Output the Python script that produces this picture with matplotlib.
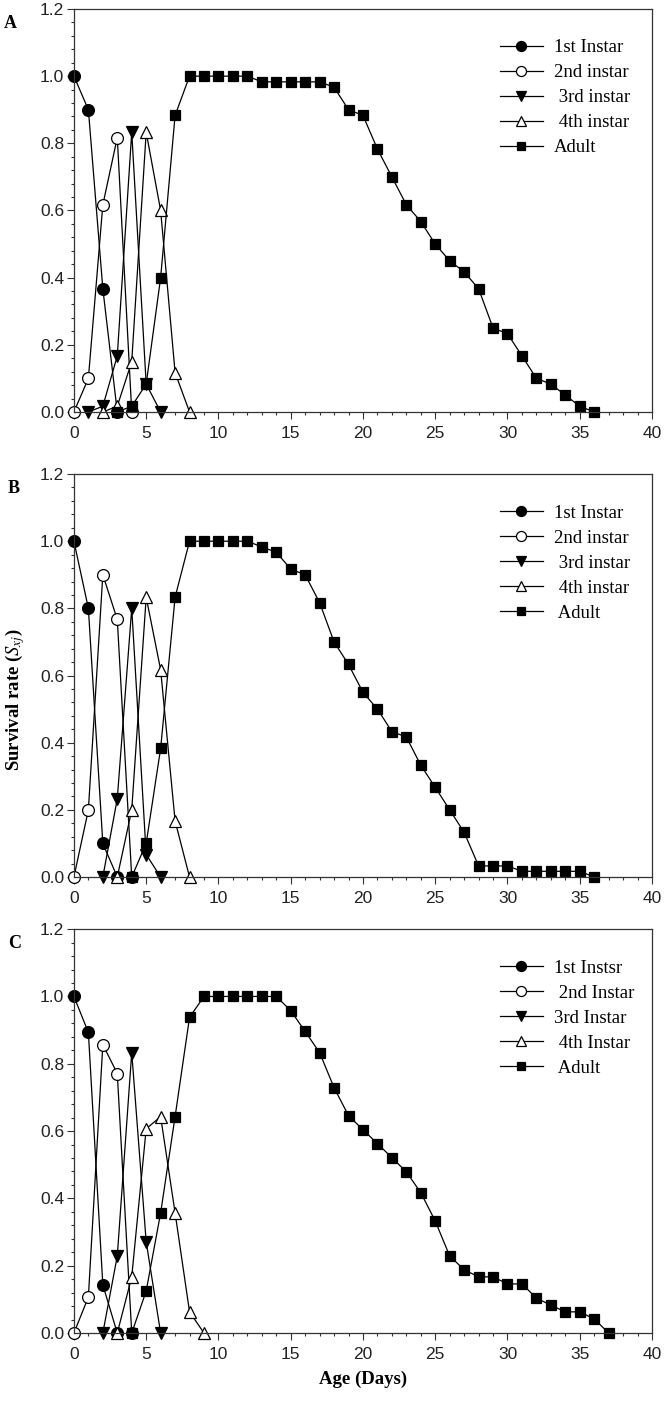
import matplotlib
matplotlib.use("Agg")
import matplotlib.pyplot as plt
from matplotlib.ticker import MultipleLocator

# ---- data ----
# panel A
a_inst1_age = [0, 1, 2, 3]
a_inst1 = [1.0, 0.9, 0.367, 0.0]
a_inst2_age = [0, 1, 2, 3, 4]
a_inst2 = [0.0, 0.1, 0.617, 0.817, 0.0]
a_inst3_age = [1, 2, 3, 4, 5, 6]
a_inst3 = [0.0, 0.017, 0.167, 0.833, 0.083, 0.0]
a_inst4_age = [2, 3, 4, 5, 6, 7, 8]
a_inst4 = [0.0, 0.017, 0.15, 0.833, 0.6, 0.117, 0.0]
a_adult_age = list(range(3, 37))
a_adult = [0.0, 0.017, 0.083, 0.4, 0.883, 1.0, 1.0, 1.0, 1.0, 1.0,
           0.983, 0.983, 0.983, 0.983, 0.983, 0.967, 0.9, 0.883, 0.783, 0.7,
           0.617, 0.567, 0.5, 0.45, 0.417, 0.367, 0.25, 0.233, 0.167, 0.1,
           0.083, 0.05, 0.017, 0.0]

# panel B
b_inst1_age = [0, 1, 2, 3]
b_inst1 = [1.0, 0.8, 0.1, 0.0]
b_inst2_age = [0, 1, 2, 3, 4]
b_inst2 = [0.0, 0.2, 0.9, 0.767, 0.0]
b_inst3_age = [2, 3, 4, 5, 6]
b_inst3 = [0.0, 0.233, 0.8, 0.067, 0.0]
b_inst4_age = [3, 4, 5, 6, 7, 8]
b_inst4 = [0.0, 0.2, 0.833, 0.617, 0.167, 0.0]
b_adult_age = list(range(4, 37))
b_adult = [0.0, 0.1, 0.383, 0.833, 1.0, 1.0, 1.0, 1.0, 1.0,
           0.983, 0.967, 0.917, 0.9, 0.817, 0.7, 0.633, 0.55, 0.5, 0.433,
           0.417, 0.333, 0.267, 0.2, 0.133, 0.033, 0.033, 0.033,
           0.017, 0.017, 0.017, 0.017, 0.017, 0.0]

# panel C
c_inst1_age = [0, 1, 2, 3]
c_inst1 = [1.0, 0.893, 0.143, 0.0]
c_inst2_age = [0, 1, 2, 3, 4]
c_inst2 = [0.0, 0.107, 0.857, 0.771, 0.0]
c_inst3_age = [2, 3, 4, 5, 6]
c_inst3 = [0.0, 0.229, 0.833, 0.271, 0.0]
c_inst4_age = [3, 4, 5, 6, 7, 8, 9]
c_inst4 = [0.0, 0.167, 0.607, 0.643, 0.357, 0.063, 0.0]
c_adult_age = list(range(4, 38))
c_adult = [0.0, 0.125, 0.357, 0.643, 0.938, 1.0, 1.0, 1.0, 1.0, 1.0, 1.0,
           0.958, 0.896, 0.833, 0.729, 0.646, 0.604, 0.563, 0.521, 0.479,
           0.417, 0.333, 0.229, 0.188, 0.167, 0.167, 0.146, 0.146, 0.104,
           0.083, 0.063, 0.063, 0.042, 0.0]

a_labels = ["1st Instar", "2nd instar", " 3rd instar", " 4th instar", "Adult"]
b_labels = ["1st Instar", "2nd instar", " 3rd instar", " 4th instar", " Adult"]
c_labels = ["1st Instsr", " 2nd Instar", "3rd Instar", " 4th Instar", " Adult"]

# marker, fill, size for each stage
styles = [("o", "black", 8.5), ("o", "white", 8.5), ("v", "black", 8),
          ("^", "white", 8), ("s", "black", 7)]

plt.rcParams["mathtext.fontset"] = "stix"
serif = "Liberation Serif"
sans = "Liberation Sans"

fig = plt.figure(figsize=(6.66, 14.05), dpi=100)

panels = [
    ("A", [0.7068, 0.2868], [(a_inst1_age, a_inst1), (a_inst2_age, a_inst2), (a_inst3_age, a_inst3),
                            (a_inst4_age, a_inst4), (a_adult_age, a_adult)], a_labels),
    ("B", [0.3758, 0.2868], [(b_inst1_age, b_inst1), (b_inst2_age, b_inst2), (b_inst3_age, b_inst3),
                            (b_inst4_age, b_inst4), (b_adult_age, b_adult)], b_labels),
    ("C", [0.0512, 0.2875], [(c_inst1_age, c_inst1), (c_inst2_age, c_inst2), (c_inst3_age, c_inst3),
                            (c_inst4_age, c_inst4), (c_adult_age, c_adult)], c_labels),
]

for letter, (bottom, height), series, labels in panels:
    ax = fig.add_axes([0.111, bottom, 0.868, height])
    for (age, val), (mk, fc, ms), lab in zip(series, styles, labels):
        ax.plot(age, val, color="black", lw=0.9, marker=mk, markersize=ms,
                markerfacecolor=fc, markeredgecolor="black", markeredgewidth=0.9,
                label=lab, clip_on=False)
    ax.set_xlim(0, 40)
    ax.set_ylim(0, 1.2)
    ax.xaxis.set_major_locator(MultipleLocator(5))
    ax.xaxis.set_minor_locator(MultipleLocator(1))
    ax.yaxis.set_major_locator(MultipleLocator(0.2))
    ax.yaxis.set_minor_locator(MultipleLocator(0.04))
    ax.yaxis.set_major_formatter(plt.FormatStrFormatter("%.1f"))
    ax.tick_params(which="both", direction="out", top=False, right=False, width=0.8, color="#333333")
    ax.tick_params(which="major", length=5)
    ax.tick_params(which="minor", length=2.5)
    ax.tick_params(axis="x", pad=5)
    ax.tick_params(axis="y", pad=2)
    for t in ax.get_xticklabels() + ax.get_yticklabels():
        t.set_fontfamily(sans)
        t.set_fontsize(12.5)
        t.set_color("#222222")
    for sp in ax.spines.values():
        sp.set_linewidth(0.9)
        sp.set_color("#333333")
    leg = ax.legend(loc="upper left", bbox_to_anchor=(0.72, 0.948), frameon=False,
                    borderpad=0, handlelength=2.3, handletextpad=0.6, labelspacing=0.42,
                    markerscale=0.85, prop={"family": serif, "size": 13.5})
    fig.text(0.012 if letter != "A" else 0.005, bottom + height - 0.004, letter,
             family=serif, fontweight="bold", fontsize=13, va="top", ha="left")

fig.text(0.022, 0.502, r"Survival rate ($\mathit{S_{xj}}$)", rotation=90, family=serif,
         fontweight="bold", fontsize=13.5, ha="center", va="center")
fig.text(0.545, 0.018, "Age (Days)", family=serif, fontweight="bold", fontsize=13.5,
         ha="center", va="center")

fig.savefig("out.png", dpi=100)
